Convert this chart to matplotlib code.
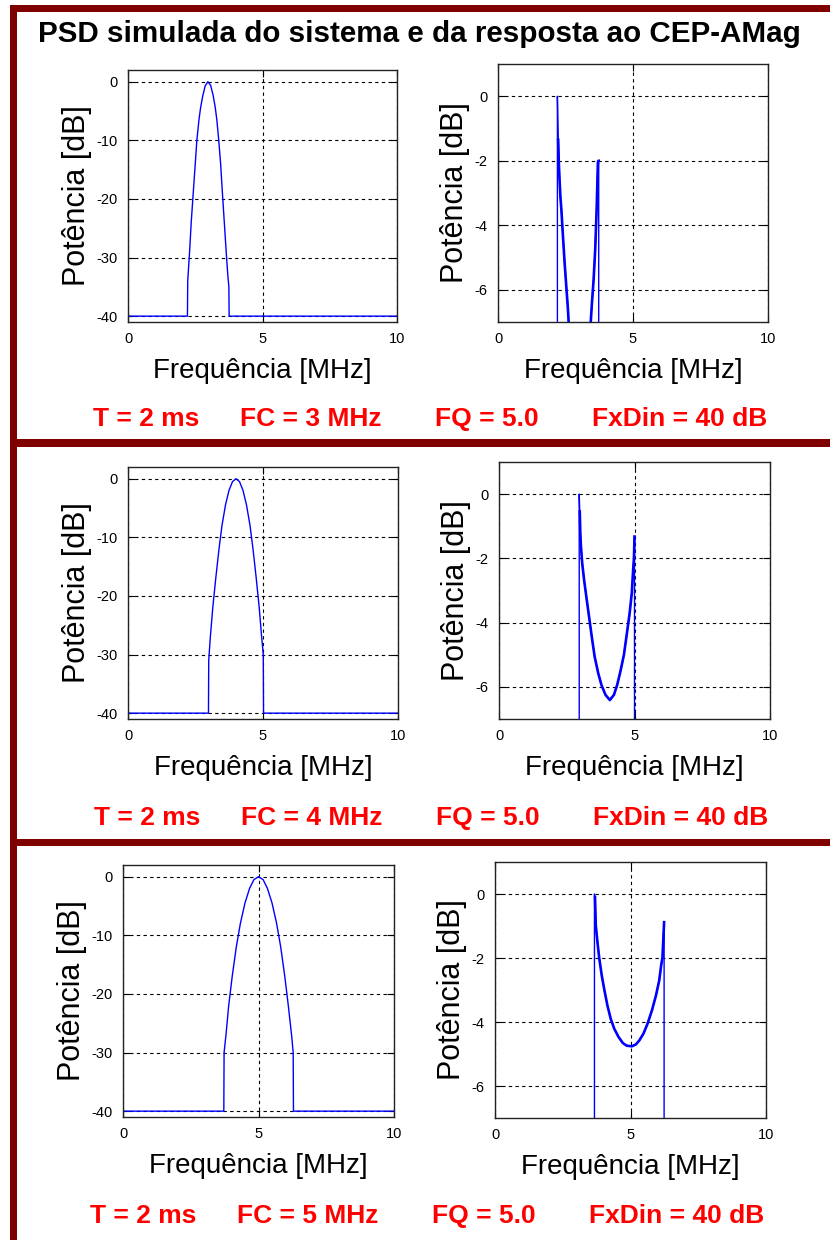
import matplotlib
matplotlib.use("Agg")
import matplotlib.pyplot as plt
from matplotlib.patches import Rectangle

plt.rcParams['font.family'] = ['Liberation Sans', 'DejaVu Sans']
plt.rcParams['axes.unicode_minus'] = False

# ---------------- data ----------------
title_text = "PSD simulada do sistema e da resposta ao CEP-AMag"
xlabel_text = "Frequência [MHz]"
ylabel_text = "Potência [dB]"
xticks = [0, 5, 10]
left_yticks = [0, -10, -20, -30, -40]
right_yticks = [0, -2, -4, -6]

info_T = ["T = 2 ms", "T = 2 ms", "T = 2 ms"]
info_FC = ["FC = 3 MHz", "FC = 4 MHz", "FC = 5 MHz"]
info_FQ = ["FQ = 5.0", "FQ = 5.0", "FQ = 5.0"]
info_FD = ["FxDin = 40 dB", "FxDin = 40 dB", "FxDin = 40 dB"]

# System PSD (left column)
sys1_f = [0, 2.21, 2.22, 2.29, 2.35, 2.41, 2.47, 2.56, 2.64, 2.70, 2.78, 2.87, 2.97,
          3.07, 3.16, 3.24, 3.30, 3.37, 3.44, 3.51, 3.58, 3.65, 3.71, 3.75, 3.76, 10]
sys1_db = [-40, -40, -34, -29, -24, -20, -16, -10, -6.4, -4.4, -2.4, -0.7, 0,
           -0.6, -2.2, -4.3, -6.4, -9.8, -13.8, -19, -24, -29, -33, -35, -40, -40]

sys2_f = [0, 2.98, 2.99, 3.05, 3.14, 3.25, 3.37, 3.48, 3.61, 3.74, 3.87, 4.0,
          4.13, 4.26, 4.39, 4.52, 4.63, 4.75, 4.86, 4.95, 5.01, 5.02, 10]
sys2_db = [-40, -40, -31, -27, -22, -17, -12, -8, -4.5, -2, -0.5, 0,
           -0.5, -2, -4.5, -8, -12, -17, -22, -27, -30, -40, -40]

sys3_f = [0, 3.72, 3.73, 3.80, 3.90, 4.03, 4.18, 4.33, 4.50, 4.67, 4.83, 5.0,
          5.17, 5.33, 5.50, 5.67, 5.82, 5.97, 6.10, 6.22, 6.28, 6.29, 10]
sys3_db = [-40, -40, -30, -27, -22, -17, -12, -8, -4.5, -2, -0.5, 0,
           -0.5, -2, -4.5, -8, -12, -17, -22, -27, -30, -40, -40]

# Response PSD (right column)
resp1_f = [2.20, 2.20, 2.23, 2.25, 2.28, 2.31, 2.35, 2.41, 2.47, 2.53, 2.59, 2.63,
           3.0, 3.42, 3.48, 3.54, 3.60, 3.65, 3.70, 3.72, 3.73, 3.73]
resp1_db = [-8, 0, -1.35, -2.0, -2.6, -3.1, -3.55, -4.4, -5.2, -5.9, -6.6, -7.2,
            -10, -7.2, -6.4, -5.7, -4.75, -3.6, -2.05, -2.0, -2.0, -8]

resp2_f = [2.96, 2.96, 2.98, 3.00, 3.02, 3.07, 3.14, 3.23, 3.33, 3.44, 3.53, 3.66, 3.78,
           3.93, 4.09, 4.24, 4.36, 4.48, 4.61, 4.72, 4.82, 4.90, 4.95, 4.98, 5.00, 5.00]
resp2_db = [-8, 0, -0.54, -1.2, -1.58, -2.15, -2.67, -3.24, -3.86, -4.54, -5.06, -5.57, -5.94,
            -6.25, -6.41, -6.25, -5.94, -5.52, -5.0, -4.33, -3.71, -3.08, -2.36, -1.99, -1.32, -8]

resp3_f = [3.67, 3.67, 3.69, 3.72, 3.78, 3.85, 3.94, 4.04, 4.15, 4.27, 4.40, 4.56, 4.72,
           4.86, 5.05, 5.20, 5.33, 5.48, 5.63, 5.79, 5.94, 6.06, 6.13, 6.18, 6.22, 6.24, 6.24]
resp3_db = [-8, 0, -0.1, -0.99, -1.5, -2.03, -2.55, -3.02, -3.49, -3.9, -4.21, -4.47, -4.66,
            -4.74, -4.76, -4.70, -4.57, -4.36, -4.05, -3.64, -3.17, -2.70, -2.24, -1.98, -1.25, -0.88, -8]

sys_f = [sys1_f, sys2_f, sys3_f]
sys_db = [sys1_db, sys2_db, sys3_db]
resp_f = [resp1_f, resp2_f, resp3_f]
resp_db = [resp1_db, resp2_db, resp3_db]

# ---------------- layout (pixels) ----------------
W, H = 830, 1240
fig = plt.figure(figsize=(W / 100, H / 100), dpi=100)
fig.patch.set_facecolor('white')

def rect(x0, y0, x1, y1):
    return [x0 / W, 1 - y1 / H, (x1 - x0) / W, (y1 - y0) / H]

left_boxes = [(128, 70, 397, 322), (128, 467, 398, 719), (123, 865, 394, 1117)]
right_boxes = [(498, 64, 768, 322), (499, 462, 770, 719), (495, 862, 766, 1118)]
info_y = [419, 818, 1216]
info_x = [[146, 311, 487, 680], [147, 312, 488, 681], [143, 308, 484, 677]]

dark_red = '#800000'
# border and separators
for (x0, y0, x1, y1) in [(10, 5, 17, 1240), (10, 5, 830, 12), (10, 439, 830, 447), (10, 839, 830, 846)]:
    fig.add_artist(Rectangle((x0 / W, 1 - y1 / H), (x1 - x0) / W, (y1 - y0) / H,
                             transform=fig.transFigure, facecolor=dark_red,
                             edgecolor='none', zorder=0))

fig.text(419 / W, 1 - 34 / H, title_text, ha='center', va='center',
         fontsize=21.3, fontweight='bold', color='black')

def style_axes(ax, yticks):
    ax.set_xlim(0, 10)
    ax.set_xticks(xticks)
    ax.set_yticks(yticks)
    ax.tick_params(direction='in', length=5, width=0.8, labelsize=10.5,
                   top=True, right=True, colors='black')
    ax.tick_params(axis='x', pad=7.5)
    ax.tick_params(axis='y', pad=7.5)
    ax.grid(True, color='black', linestyle=(0, (3, 3)), linewidth=0.8)
    for s in ax.spines.values():
        s.set_linewidth(1.0)
        s.set_color('#222222')
    ax.set_xlabel(xlabel_text, fontsize=20, labelpad=8.5)
    ax.set_ylabel(ylabel_text, fontsize=22, labelpad=3)

for i in range(3):
    axl = fig.add_axes(rect(*left_boxes[i]))
    axl.plot(sys_f[i], sys_db[i], color='blue', linewidth=1.0)
    axl.set_ylim(-41, 2)
    style_axes(axl, left_yticks)

    axr = fig.add_axes(rect(*right_boxes[i]))
    axr.plot(resp_f[i], resp_db[i], color='blue', linewidth=1.0)
    axr.plot(resp_f[i][2:-1], resp_db[i][2:-1], color='blue', linewidth=1.9)
    axr.set_ylim(-7, 1)
    style_axes(axr, right_yticks)

    labels = [info_T[i], info_FC[i], info_FQ[i], info_FD[i]]
    for xc, lab in zip(info_x[i], labels):
        fig.text(xc / W, 1 - info_y[i] / H, lab, ha='center', va='center',
                 fontsize=19, fontweight='bold', color='#ff0000')

fig.savefig('out.png', dpi=100, facecolor='white')
